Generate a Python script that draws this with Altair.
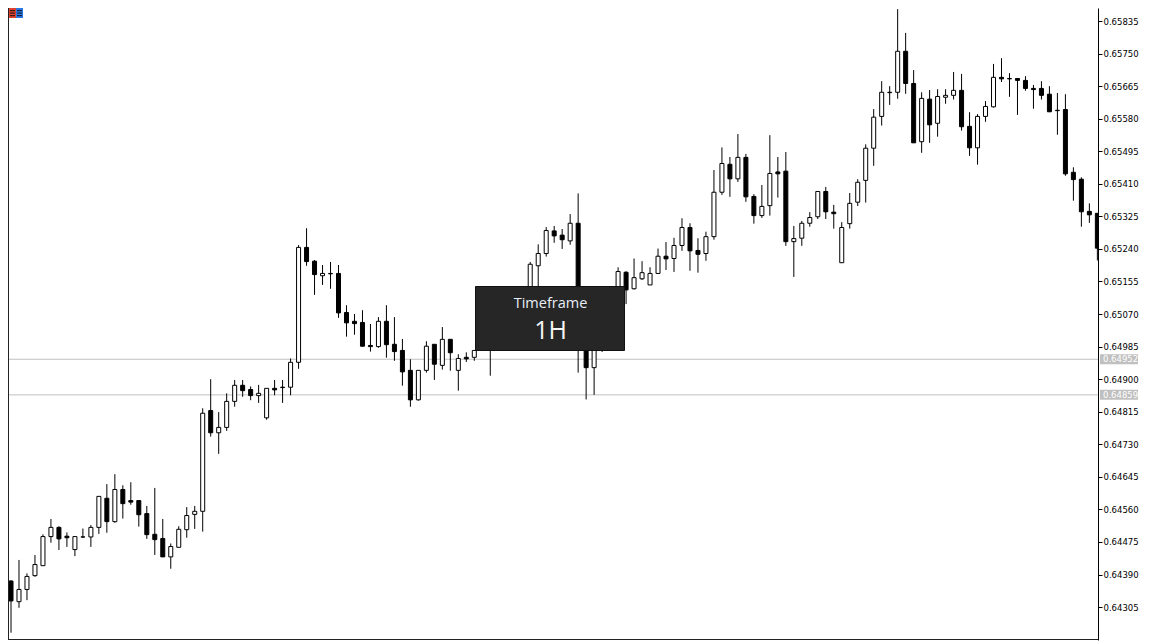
import altair as alt
import pandas as pd

# Prices are written in points (1 point = 0.00001)
opens = [
 64373,64319,64351,64387,64413,64489,64513,64490,64455,64488,
 64488,64513,64589,64528,64612,64583,64583,64549,64495,64484,
 64436,64461,64507,64547,64555,64818,64760,64774,64842,64884,
 64873,64857,64799,64876,64878,64879,64944,65244,65208,65170,
 65175,65176,65074,65051,65048,64988,64985,65051,64991,64975,
 64923,64846,64923,64991,64936,65004,64923,64957,64957,64979,
 65010,65049,65075,65049,65107,65127,65196,65228,65287,65276,
 65261,65307,65107,64930,65028,65067,65107,65179,65136,65162,
 65146,65176,65221,65215,65249,65296,65236,65228,65272,65388,
 65461,65423,65479,65377,65327,65353,65441,65443,65259,65268,
 65307,65324,65390,65336,65204,65306,65362,65419,65503,65586,
 65648,65649,65756,65672,65520,65631,65568,65636,65641,65654,
 65560,65504,65586,65611,65688,65684,65685,65680,65659,65659,
 65644,65601,65604,65440,65422,65338,65333]
highs = [
 64375,64428,64393,64441,64495,64535,64516,64500,64489,64510,
 64519,64594,64626,64652,64623,64631,64583,64569,64616,64535,
 64471,64516,64566,64569,64824,64900,64814,64863,64898,64898,
 64881,64885,64876,64898,64898,64954,65250,65294,65211,65198,
 65206,65198,65093,65070,65080,65044,65062,65093,65062,65005,
 64952,64923,64999,64991,65036,65004,64965,64970,64975,65023,
 65060,65093,65091,65120,65138,65206,65252,65297,65300,65292,
 65331,65385,65120,65041,65086,65120,65192,65182,65215,65208,
 65192,65241,65258,65269,65320,65307,65268,65285,65446,65505,
 65480,65540,65488,65383,65407,65537,65480,65493,65300,65313,
 65336,65390,65402,65355,65310,65386,65422,65513,65605,65678,
 65665,65866,65804,65707,65649,65655,65657,65657,65702,65697,
 65597,65592,65626,65723,65738,65699,65685,65691,65668,65678,
 65665,65647,65644,65453,65427,65359,65333]
lows = [
 64238,64303,64323,64384,64413,64473,64454,64462,64438,64486,
 64462,64496,64499,64525,64536,64572,64515,64483,64441,64436,
 64405,64461,64486,64509,64502,64750,64705,64765,64828,64854,
 64845,64838,64794,64858,64838,64858,64927,65196,65120,65146,
 65136,65060,65011,65016,64985,64972,64982,64956,64948,64883,
 64828,64844,64917,64898,64925,64922,64870,64945,64948,64976,
 64909,65039,65028,65033,65093,65114,65133,65220,65256,65240,
 65251,64917,64847,64859,64971,65049,65093,65096,65134,65159,
 65146,65176,65185,65180,65235,65183,65178,65209,65264,65381,
 65376,65415,65363,65306,65321,65327,65374,65248,65167,65248,
 65298,65318,65318,65293,65204,65293,65352,65361,65457,65562,
 65616,65632,65645,65517,65491,65517,65533,65619,65630,65549,
 65483,65460,65572,65609,65676,65637,65590,65653,65606,65630,
 65598,65538,65431,65366,65298,65308,65210]
closes = [
 64321,64351,64385,64416,64489,64513,64483,64486,64489,64488,
 64513,64594,64528,64612,64575,64579,64546,64494,64481,64436,
 64463,64508,64544,64555,64811,64760,64774,64842,64884,64870,
 64857,64863,64876,64872,64879,64944,65244,65207,65173,65176,
 65176,65073,65047,65045,64986,64985,65051,64990,64972,64919,
 64846,64923,64986,64939,65004,64969,64954,64953,64975,65010,
 65049,65075,65049,65107,65127,65200,65228,65288,65274,65264,
 65307,65107,64930,65028,65067,65107,65181,65133,65165,65178,
 65176,65221,65214,65249,65296,65235,65226,65272,65388,65463,
 65423,65479,65376,65327,65351,65437,65436,65259,65267,65307,
 65322,65390,65337,65332,65296,65359,65414,65503,65584,65649,
 65649,65756,65672,65517,65633,65564,65638,65641,65654,65559,
 65504,65586,65612,65688,65684,65685,65680,65659,65656,65641,
 65598,65602,65436,65421,65337,65329,65242]

level_prices = [0.64952, 0.64859]
tick_values = [round(0.64305 + 0.00085 * k, 5) for k in range(19)]
box_title = "Timeframe"
box_value = "1H"

df = pd.DataFrame({
    "i": list(range(len(opens))),
    "o": [v / 1e5 for v in opens],
    "h": [v / 1e5 for v in highs],
    "l": [v / 1e5 for v in lows],
    "c": [v / 1e5 for v in closes],
})
df["up"] = df["c"] >= df["o"]
levels = pd.DataFrame({"p": level_prices, "label": [f"{p:.5f}" for p in level_prices]})
one = alt.Data(values=[{"a": 1}])

W, H = 1090, 632
xs = alt.Scale(domain=[-0.376, 136.08], nice=False, zero=False, padding=0)
ys = alt.Scale(domain=[0.64219, 0.65869], nice=False, zero=False, padding=0)
xenc = alt.X("i:Q", scale=xs, axis=None)
yaxis = alt.Axis(
    orient="right", values=tick_values, format=".5f", grid=False, title=None,
    domainColor="#000000", tickColor="#000000", tickSize=4, tickWidth=1,
    labelColor="#000000", labelFont="DejaVu Sans", labelFontSize=8.5,
    labelPadding=1, labelFlush=False, labelOverlap=False, labelBound=False,
    labelSeparation=0)
yenc = lambda f: alt.Y(f, scale=ys, axis=yaxis)

wicks = alt.Chart(df).mark_rule(color="#000000", strokeWidth=1, clip=True).encode(
    x=xenc, y=yenc("l:Q"), y2="h:Q")
bodies = alt.Chart(df).mark_bar(size=4, stroke="#000000", strokeWidth=1, clip=True, orient="vertical").encode(
    x=xenc,
    y=yenc("o:Q"),
    y2="c:Q",
    fill=alt.condition("datum.up", alt.value("#ffffff"), alt.value("#000000")),
)
lines = alt.Chart(levels).mark_rule(color="#c0c0c0", strokeWidth=1).encode(y=yenc("p:Q"))
tags = alt.Chart(levels).mark_rect(color="#c0c0c0", height=10).encode(
    x=alt.value(1092), x2=alt.value(1130), y=yenc("p:Q"))
tag_text = alt.Chart(levels).mark_text(
    color="#ffffff", align="left", baseline="middle", font="DejaVu Sans", fontSize=8.5
).encode(x=alt.value(1095), y=yenc("p:Q"), text="label:N")

left_border = alt.Chart(one).mark_rule(color="#222222", strokeWidth=1).encode(
    x=alt.value(0.5), y=alt.value(0), y2=alt.value(H))
bottom_border = alt.Chart(one).mark_rule(color="#222222", strokeWidth=1).encode(
    x=alt.value(0), x2=alt.value(W), y=alt.value(H - 0.5))

box = alt.Chart(one).mark_rect(color="#262626", stroke="#111111", strokeWidth=1).encode(
    x=alt.value(467.5), x2=alt.value(616.5), y=alt.value(278.5), y2=alt.value(342.5))
box_t1 = alt.Chart(one).mark_text(
    color="#e8eef6", font="Open Sans", fontSize=14.5, align="center", baseline="middle"
).encode(x=alt.value(542.5), y=alt.value(295.5), text=alt.value(box_title))
box_t2 = alt.Chart(one).mark_text(
    color="#f4f4f4", font="Open Sans", fontSize=25, align="center", baseline="middle"
).encode(x=alt.value(542.5), y=alt.value(323), text=alt.value(box_value))

def icon_rect(x0, x1, y0, y1, color):
    return alt.Chart(one).mark_rect(color=color).encode(
        x=alt.value(x0), x2=alt.value(x1), y=alt.value(y0), y2=alt.value(y1))

icon = [icon_rect(1, 8, 0, 10, "#e0402e"), icon_rect(8, 15, 0, 10, "#2b78e4")]
for yy in (2, 4.5, 7):
    icon.append(icon_rect(2, 7, yy, yy + 1.2, "#3a1a16"))
    icon.append(icon_rect(9, 14, yy, yy + 1.2, "#12233f"))

chart = alt.layer(
    lines, wicks, bodies, tags, tag_text, left_border, bottom_border,
    box, box_t1, box_t2, *icon
).properties(
    width=W, height=H,
    padding={"left": 0, "top": 0, "right": 44, "bottom": 1},
    autosize=alt.AutoSizeParams(type="none"),
    background="#ffffff",
).configure_view(stroke=None)

chart.save("out.html", embed_options={"renderer": "svg", "actions": False})
